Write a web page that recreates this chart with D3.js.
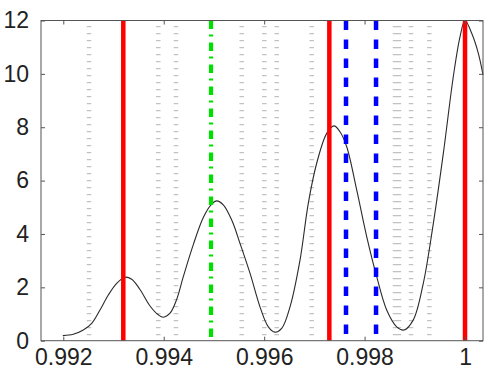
<!DOCTYPE html>
<html><head><meta charset="utf-8">
<script src="https://cdn.jsdelivr.net/npm/d3@7"></script>
<style>html,body{margin:0;padding:0;background:#fff;}</style>
</head><body>
<svg id="chart" width="488" height="382"></svg>
<script>
const xTicks = [0.992, 0.994, 0.996, 0.998, 1.0];
const xTickLabels = ["0.992", "0.994", "0.996", "0.998", "1"];
const yTicks = [0, 2, 4, 6, 8, 10, 12];
const xDomain = [0.991556, 1.000358];
const yDomain = [0, 12];

const curveX = [0.99199, 0.992199, 0.992398, 0.992566, 0.992731, 0.992896, 0.993063, 0.993229, 0.993362, 0.993527,
  0.993727, 0.993892, 0.993992, 0.994125, 0.994258, 0.994390, 0.994589, 0.994788, 0.994955, 0.995055,
  0.995186, 0.995354, 0.995519, 0.995718, 0.995917, 0.996083, 0.996216, 0.996349, 0.996515, 0.996714,
  0.996879, 0.997046, 0.997246, 0.997391, 0.997510, 0.997644, 0.997843, 0.998042, 0.998241, 0.998440,
  0.998640, 0.998785, 0.998970, 0.999169, 0.999369, 0.999568, 0.999767, 0.999900, 1.000000, 1.000133,
  1.000265, 1.000358];
const curveY = [0.19, 0.24, 0.40, 0.65, 1.15, 1.71, 2.15, 2.38, 2.30, 1.92,
  1.30, 0.97, 0.88, 1.03, 1.55, 2.40, 3.60, 4.62, 5.12, 5.24,
  5.09, 4.52, 3.65, 2.53, 1.27, 0.52, 0.32, 0.46, 1.27, 3.02,
  5.15, 6.65, 7.77, 8.05, 7.83, 7.27, 5.65, 3.90, 2.40, 1.15,
  0.52, 0.40, 0.78, 2.15, 4.40, 7.02, 9.90, 11.39, 12.0, 11.52,
  10.77, 9.96];

const grayLines = [0.992512, 0.993892, 0.994244, 0.995553, 0.996003, 0.996250, 0.996947,
  0.998606, 0.998685, 0.998925, 0.999289];
const redLines = [0.993195, 0.997298, 1.000000];
const greenLines = [0.994942];
const blueLines = [0.997630, 0.998228];

const W = 488, H = 382;
const m = {left: 41, right: 5, top: 20.5, bottom: 41.3};
const svg = d3.select("#chart");
const x = d3.scaleLinear().domain(xDomain).range([m.left, W - m.right]);
const y = d3.scaleLinear().domain(yDomain).range([H - m.bottom, m.top]);
const font = "'Liberation Sans', Arial, Helvetica, sans-serif";

const g = svg.append("g");

function vlines(vals, color, width, dash, offset) {
  g.selectAll(null).data(vals).enter().append("line")
    .attr("x1", d => x(d)).attr("x2", d => x(d))
    .attr("y1", y(12)).attr("y2", y(0))
    .attr("stroke", color).attr("stroke-width", width)
    .attr("stroke-dasharray", dash)
    .attr("stroke-dashoffset", offset || 0);
}

vlines(grayLines, "#c2c2c2", 4.5, "1.2,5.8", -5.5);

const pts = curveX.map((v, i) => [v, curveY[i]]);
g.append("path").datum(pts)
  .attr("fill", "none").attr("stroke", "#2a2a2a").attr("stroke-width", 1.1)
  .attr("d", d3.line().x(d => x(d[0])).y(d => y(d[1])).curve(d3.curveCatmullRom.alpha(0.5)));

vlines(redLines, "#ff0000", 4.5, null);
vlines(greenLines, "#00e000", 4.2, "8.5,5.5,2,6");
vlines(blueLines, "#0000ff", 4.5, "9.5,9.5");

g.append("rect").attr("x", m.left).attr("y", m.top)
  .attr("width", W - m.right - m.left).attr("height", H - m.bottom - m.top)
  .attr("fill", "none").attr("stroke", "#555").attr("stroke-width", 1);

const tl = 4;
const xb = d3.axisBottom(x).tickValues(xTicks).tickFormat((d, i) => xTickLabels[i]).tickSizeInner(-tl).tickSizeOuter(0).tickPadding(14);
const xa = svg.append("g").attr("transform", `translate(0,${y(0)})`).call(xb);
const xt = svg.append("g").attr("transform", `translate(0,${y(12)})`).call(d3.axisTop(x).tickValues(xTicks).tickFormat("").tickSizeInner(-tl).tickSizeOuter(0));
const yl = d3.axisLeft(y).tickValues(yTicks).tickSizeInner(-tl).tickSizeOuter(0).tickPadding(12);
const ya = svg.append("g").attr("transform", `translate(${x(xDomain[0])},0)`).call(yl);
const yr = svg.append("g").attr("transform", `translate(${x(xDomain[1])},0)`).call(d3.axisRight(y).tickValues(yTicks).tickFormat("").tickSizeInner(-tl).tickSizeOuter(0));
[xa, xt, ya, yr].forEach(a => {
  a.select(".domain").remove();
  a.selectAll(".tick line").attr("stroke", "#555");
  a.selectAll("text").attr("font-family", font).attr("font-size", 23).attr("fill", "#222");
});
xa.selectAll("text").attr("dy", "0.71em").attr("y", 8);
</script>
</body></html>
